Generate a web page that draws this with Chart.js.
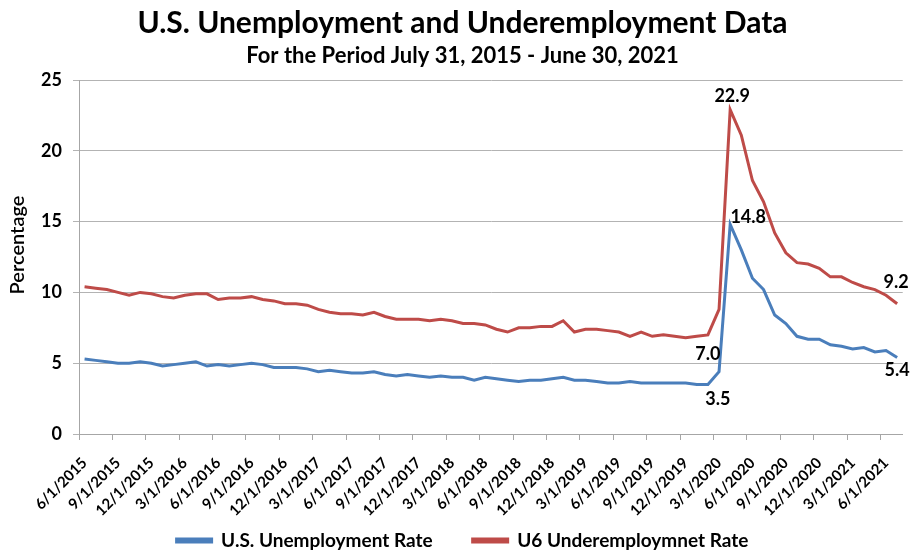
<!DOCTYPE html>
<html><head><meta charset="utf-8">
<script src="https://cdn.jsdelivr.net/npm/chart.js@4/dist/chart.umd.min.js"></script>
<style>html,body{margin:0;padding:0;background:#fff}</style>
</head><body>
<canvas id="c" width="924" height="550"></canvas>
<script>
const categories = [
 '6/1/2015','7/1/2015','8/1/2015','9/1/2015','10/1/2015','11/1/2015','12/1/2015',
 '1/1/2016','2/1/2016','3/1/2016','4/1/2016','5/1/2016','6/1/2016','7/1/2016','8/1/2016','9/1/2016','10/1/2016','11/1/2016','12/1/2016',
 '1/1/2017','2/1/2017','3/1/2017','4/1/2017','5/1/2017','6/1/2017','7/1/2017','8/1/2017','9/1/2017','10/1/2017','11/1/2017','12/1/2017',
 '1/1/2018','2/1/2018','3/1/2018','4/1/2018','5/1/2018','6/1/2018','7/1/2018','8/1/2018','9/1/2018','10/1/2018','11/1/2018','12/1/2018',
 '1/1/2019','2/1/2019','3/1/2019','4/1/2019','5/1/2019','6/1/2019','7/1/2019','8/1/2019','9/1/2019','10/1/2019','11/1/2019','12/1/2019',
 '1/1/2020','2/1/2020','3/1/2020','4/1/2020','5/1/2020','6/1/2020','7/1/2020','8/1/2020','9/1/2020','10/1/2020','11/1/2020','12/1/2020',
 '1/1/2021','2/1/2021','3/1/2021','4/1/2021','5/1/2021','6/1/2021','7/1/2021'
];
const unemploymentRate = [
 5.3,5.2,5.1,5.0,5.0,5.1,5.0,
 4.8,4.9,5.0,5.1,4.8,4.9,4.8,4.9,5.0,4.9,4.7,4.7,
 4.7,4.6,4.4,4.5,4.4,4.3,4.3,4.4,4.2,4.1,4.2,4.1,
 4.0,4.1,4.0,4.0,3.8,4.0,3.9,3.8,3.7,3.8,3.8,3.9,
 4.0,3.8,3.8,3.7,3.6,3.6,3.7,3.6,3.6,3.6,3.6,3.6,
 3.5,3.5,4.4,14.8,13.0,11.0,10.2,8.4,7.8,6.9,6.7,6.7,
 6.3,6.2,6.0,6.1,5.8,5.9,5.4
];
const underemploymentRate = [
 10.4,10.3,10.2,10.0,9.8,10.0,9.9,
 9.7,9.6,9.8,9.9,9.9,9.5,9.6,9.6,9.7,9.5,9.4,9.2,
 9.2,9.1,8.8,8.6,8.5,8.5,8.4,8.6,8.3,8.1,8.1,8.1,
 8.0,8.1,8.0,7.8,7.8,7.7,7.4,7.2,7.5,7.5,7.6,7.6,
 8.0,7.2,7.4,7.4,7.3,7.2,6.9,7.2,6.9,7.0,6.9,6.8,
 6.9,7.0,8.8,22.9,21.1,17.9,16.4,14.2,12.8,12.1,12.0,11.7,
 11.1,11.1,10.7,10.4,10.2,9.8,9.2
];
const seriesNames = ['U.S. Unemployment Rate','U6 Underemploymnet Rate'];
const yTickValues = [0,5,10,15,20,25];
const titleText = 'U.S. Unemployment and Underemployment Data';
const subtitleText = 'For the Period July 31, 2015 - June 30, 2021';
const yAxisTitle = 'Percentage';
// which points carry a value label (series index, point index)
const labelledPoints = [[1,56],[1,58],[1,73],[0,56],[0,58],[0,73]];

// ---- styling ----
const labelOffsets = [[0,19],[2,-14],[-1,-22],[10,15],[18,-7],[0,13]];
const BLUE = '#4A7EBB', RED = '#BE4B48', GRID = '#b3b3b3', AXIS = '#a6a6a6';
const LEGEND_TOP = 491;
const Y_TITLE_SHIFT = -12;
Chart.defaults.font.family = 'Lato';
Chart.defaults.color = '#000';

const valueLabels = {
  id: 'valueLabels',
  afterDatasetsDraw(chart) {
    const ctx = chart.ctx;
    ctx.save();
    ctx.font = 'bold 18px Lato';
    ctx.fillStyle = '#000';
    ctx.textAlign = 'center';
    ctx.textBaseline = 'middle';
    labelledPoints.forEach(([s, i], k) => {
      const el = chart.getDatasetMeta(s).data[i];
      const v = chart.data.datasets[s].data[i];
      ctx.fillText(v.toFixed(1), el.x + labelOffsets[k][0], el.y + labelOffsets[k][1]);
    });
    ctx.restore();
  }
};

// legend sits over the lower part of the rotated date labels, as in the original
const layoutTweaks = {
  id: 'layoutTweaks',
  afterInit(chart) {
    const lg = chart.legend;
    const fit = lg.fit;
    lg.fit = function () { fit.call(this); this.height = 0; };
  },
  afterLayout(chart) {
    const lg = chart.legend;
    lg.top = LEGEND_TOP;
    lg.bottom = chart.height;
    lg.height = lg.bottom - lg.top;
    const ys = chart.scales.y;
    if (!ys._titleShifted) {
      const orig = ys.drawTitle;
      ys.drawTitle = function () {
        this.ctx.save();
        this.ctx.translate(0, Y_TITLE_SHIFT);
        orig.call(this);
        this.ctx.restore();
      };
      ys._titleShifted = true;
    }
  }
};

new Chart(document.getElementById('c'), {
  type: 'line',
  data: {
    labels: categories,
    datasets: [
      {label: seriesNames[0], data: unemploymentRate, borderColor: BLUE, backgroundColor: BLUE, borderWidth: 3, pointRadius: 0, tension: 0},
      {label: seriesNames[1], data: underemploymentRate, borderColor: RED, backgroundColor: RED, borderWidth: 3, pointRadius: 0, tension: 0}
    ]
  },
  options: {
    responsive: false,
    animation: false,
    devicePixelRatio: 1,
    layout: {padding: {left: 20, right: 19, top: 0, bottom: 0}},
    plugins: {
      title: {display: true, text: titleText, font: {size: 30, weight: 'bold'}, color: '#000', padding: {top: 5, bottom: 2}},
      subtitle: {display: true, text: subtitleText, font: {size: 22, weight: 'bold'}, color: '#000', padding: {top: 0, bottom: 10.6}},
      legend: {position: 'bottom', labels: {boxWidth: 35, boxHeight: 3, padding: 40, font: {size: 19, weight: 'bold'}, color: '#000'}},
      tooltip: {enabled: false}
    },
    scales: {
      x: {
        type: 'category',
        offset: true,
        grid: {offset: true, drawOnChartArea: false, drawTicks: true, tickLength: 6,
               color: (c) => (c.index % 3 === 0 ? AXIS : 'rgba(0,0,0,0)')},
        border: {display: true, color: AXIS, width: 1},
        ticks: {autoSkip: false, maxRotation: 45, minRotation: 45, padding: 14,
                font: {size: 15, weight: 'bold'}, color: '#000',
                callback: (v, i) => (i % 3 === 0 ? categories[i] : '')},
        afterFit: (s) => { s.height = 116; }
      },
      y: {
        min: 0, max: 25,
        afterBuildTicks: (s) => { s.ticks = yTickValues.map(v => ({value: v})); },
        grid: {color: GRID, lineWidth: 1, tickLength: 6, drawTicks: true},
        border: {display: true, color: AXIS, width: 1},
        ticks: {padding: 11, font: {size: 18, weight: 'bold'}, color: '#000'},
        title: {display: true, text: yAxisTitle, font: {size: 20, weight: '600'}, color: '#000', padding: {top: -14, bottom: 0}},
        afterFit: (s) => { s.width = 59; }
      }
    }
  },
  plugins: [valueLabels, layoutTweaks]
});
</script>
</body></html>
